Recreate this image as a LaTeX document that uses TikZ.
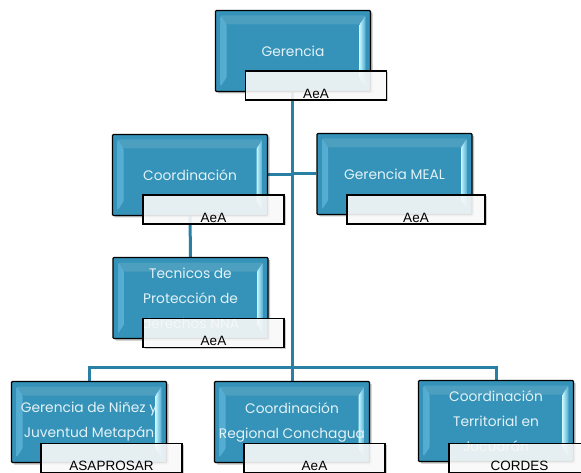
\documentclass[tikz,border=0pt]{standalone}
\usepackage{fontspec}
\setmainfont{Poppins}
\newfontfamily\lblfont{Liberation Sans}
\usetikzlibrary{backgrounds,shadows,calc}
\definecolor{boxblue}{HTML}{3592B8}
\definecolor{bevlight}{HTML}{C4F6FF}
\definecolor{bevdark}{HTML}{4FA9CF}
\definecolor{linecol}{HTML}{2A7FA4}
\definecolor{boxtext}{HTML}{E2F2F7}
\tikzset{
  orgbox/.style={draw=black, line width=1.4pt, fill=boxblue, rounded corners=1pt,
    minimum width=155pt, minimum height=81pt, inner sep=0pt,
    text=boxtext, font=\fontsize{13.8}{25}\selectfont, align=center,
    drop shadow={shadow xshift=2pt, shadow yshift=-2pt, opacity=0.25, fill=black},
    path picture={
      \shade[left color=bevdark, right color=bevlight]
        ([shift={(5pt,-5pt)}]path picture bounding box.north west) --
        ([shift={(11pt,-14pt)}]path picture bounding box.north west) --
        ([shift={(11pt,14pt)}]path picture bounding box.south west) --
        ([shift={(5pt,5pt)}]path picture bounding box.south west) -- cycle;
      \shade[left color=bevlight, right color=bevdark]
        ([shift={(-5pt,-5pt)}]path picture bounding box.north east) --
        ([shift={(-11pt,-14pt)}]path picture bounding box.north east) --
        ([shift={(-11pt,14pt)}]path picture bounding box.south east) --
        ([shift={(-5pt,5pt)}]path picture bounding box.south east) -- cycle;
      \fill[white, opacity=0.12]
        ([shift={(5pt,-5pt)}]path picture bounding box.north west) --
        ([shift={(11pt,-14pt)}]path picture bounding box.north west) --
        ([shift={(-11pt,-14pt)}]path picture bounding box.north east) --
        ([shift={(-5pt,-5pt)}]path picture bounding box.north east) -- cycle;
    }},
  lblbox/.style={draw=black, line width=1.2pt, fill=white, fill opacity=0.88, text opacity=1,
    minimum width=141pt, minimum height=29pt, inner xsep=0pt, inner ysep=0pt,
    text height=27pt, text depth=1.5pt, font=\lblfont\fontsize{13.5}{14}\selectfont,
    drop shadow={shadow xshift=1.5pt, shadow yshift=-1.5pt, opacity=0.2, fill=black}},
  conn/.style={draw=linecol, line width=3pt}
}
\begin{document}
\begin{tikzpicture}[x=1pt,y=-1pt]
\useasboundingbox (0,0) rectangle (581,473);
\clip (0,0) rectangle (581,473);
% boxes
\node[orgbox] (g) at (293,51) {Gerencia};
\node[orgbox] (c) at (190,175) {Coordinación};
\node[orgbox] (m) at (394.5,174) {Gerencia MEAL};
\node[orgbox] (t) at (190.5,298) {Tecnicos de\\Protección de\\derechos NNA};
\node[orgbox] (n) at (89,422) {Gerencia de Niñez y\\Juventud Metapán};
\node[orgbox] (r) at (292,422) {Coordinación\\Regional Conchagua};
\node[orgbox] (j) at (496,421) {Coordinación\\Territorial en\\Jucuarán};
% labels
\node[lblbox] (gl) at (316,85.5) {AeA};
\node[lblbox] (cl) at (213.5,209.5) {AeA};
\node[lblbox, minimum width=138pt] (ml) at (416,209.5) {AeA};
\node[lblbox] (tl) at (213.5,333) {AeA};
\node[lblbox] (nl) at (111.5,458) {ASAPROSAR};
\node[lblbox] (rl) at (314.5,458) {AeA};
\node[lblbox] (jl) at (519.5,458) {CORDES};
\coordinate (bar) at (292,367);
% connectors
\begin{scope}[on background layer]
\draw[conn] (g.south -| bar) -- (r.north -| bar);
\draw[conn] (n.north) |- (bar) -| (j.north);
\draw[conn] (c.east) -- (c.east -| bar);
\draw[conn] (m.west) -- (m.west -| bar);
\draw[conn] (c.south) -- (t.north);
\end{scope}
\end{tikzpicture}
\end{document}
